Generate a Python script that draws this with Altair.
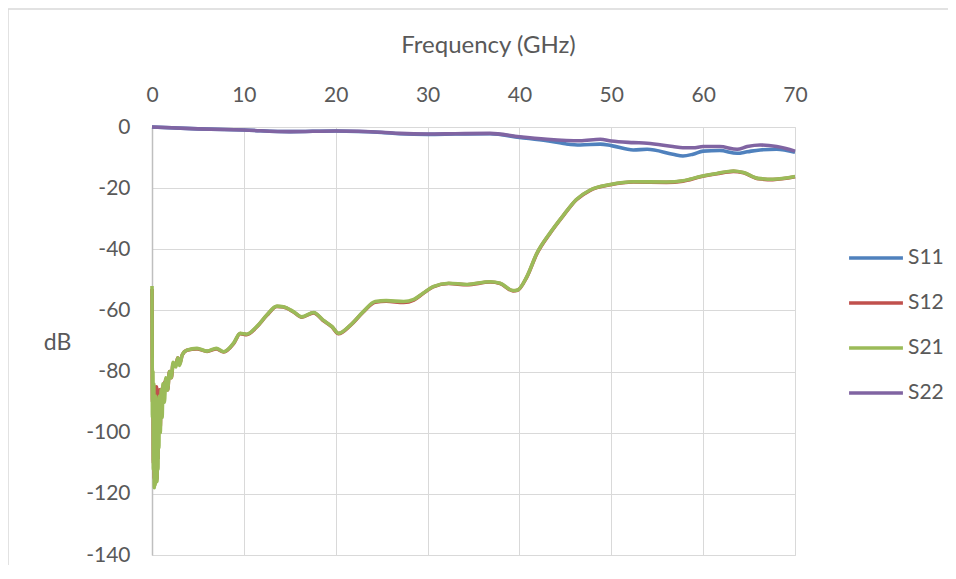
import altair as alt
import pandas as pd

series_names = ["S11", "S12", "S21", "S22"]
series_colors = ["#4F81BD", "#C0504D", "#9BBB59", "#8064A2"]
x_ticks = [0, 10, 20, 30, 40, 50, 60, 70]
y_ticks = [-140, -120, -100, -80, -60, -40, -20, 0]

# S11 (GHz, dB)
s11_f = [0, 5, 10, 15, 20, 25, 27, 30, 33, 36.8, 40, 43, 45, 46.6, 48.8, 50, 52.4, 53.9,
         56.7, 57.8, 58.9, 60, 61.8, 63.7, 64.8, 66.2, 68, 70]
s11_db = [0, -0.6, -1.0, -1.5, -1.3, -1.8, -2.2, -2.4, -2.3, -2.2, -3.4, -4.5, -5.5, -5.9,
          -5.6, -6.1, -7.5, -7.3, -8.9, -9.5, -8.9, -7.9, -7.7, -8.6, -8.1, -7.5, -7.3, -8.3]

# S22
s22_f = [0, 5, 10, 15, 20, 25, 27, 30, 33, 36.8, 40, 43, 46.6, 48.8, 50, 52.4, 53.9, 56.7,
         57.8, 58.9, 60, 61.8, 63.7, 64.8, 66.2, 68, 69, 70]
s22_db = [0, -0.6, -1.0, -1.5, -1.3, -1.7, -2.1, -2.3, -2.2, -2.1, -3.2, -4.0, -4.5, -4.0,
          -4.6, -5.1, -5.3, -6.4, -6.8, -6.8, -6.4, -6.4, -7.3, -6.4, -5.9, -6.4, -7.0, -7.9]

# S21
s21_f = [0.0, 0.05, 0.1, 0.15, 0.2, 0.25, 0.3, 0.35, 0.4, 0.45, 0.5, 0.55, 0.6, 0.65, 0.7,
         0.75, 0.8, 0.9, 1.0, 1.1, 1.2, 1.35, 1.5, 1.7, 1.9, 2.1, 2.3, 2.6, 2.8, 3.0, 3.3,
         3.8, 4.9, 6.0, 7.0, 7.8, 8.9, 9.6, 10.3, 11.4, 12.5, 13.6, 14.3, 15.4, 16.3, 17.6,
         18.6, 19.6, 20.3, 21.6, 23.0, 24.3, 25.5, 27.4, 28.5, 29.5, 30.6, 32.3, 34.3, 36.8,
         37.9, 39.3, 39.8, 40.8, 41.9, 43.3, 44.8, 46.2, 47.7, 49.9, 52.4, 56.0, 57.8, 59.7,
         61.5, 63.3, 64.4, 66.0, 67.6, 70.0]
s21_db = [-52, -95, -80, -112, -84, -118, -90, -117, -88, -110, -92, -116, -90, -112, -95,
          -105, -88, -100, -86, -95, -84, -90, -82, -86, -80, -82, -77, -78.5, -75.5, -78, -74.5,
          -73, -72.4, -73.3, -72.4, -73.5, -70.6, -67.5, -67.8, -65.3, -61.5, -58.6, -58.8,
          -60.4, -62.1, -60.7, -63.1, -65.3, -67.5, -64.8, -60.4, -57.1, -56.8, -57.1, -56.4,
          -54.4, -52.2, -51.1, -51.5, -50.6, -51.1, -53.5, -53.3, -49, -41.3, -34.8, -28.8,
          -23.7, -20.6, -18.8, -17.9, -18.0, -17.6, -16.2, -15.2, -14.4, -14.9, -16.8, -17.1,
          -16.2]

# S12
s12_f = [0.0, 0.05, 0.1, 0.15, 0.2, 0.25, 0.3, 0.35, 0.4, 0.45, 0.5, 0.55, 0.6, 0.65, 0.7,
         0.8, 0.9, 1.0, 1.2, 1.5, 1.7, 1.9, 2.1, 2.3, 2.6, 2.8, 3.0, 3.3,
         3.8, 4.9, 6.0, 7.0, 7.8, 8.9, 9.6, 10.3, 11.4, 12.5, 13.6, 14.3, 15.4, 16.3, 17.6,
         18.6, 19.6, 20.3, 21.6, 23.0, 24.3, 25.5, 27.4, 28.5, 29.5, 30.6, 32.3, 34.3, 36.8,
         37.9, 39.3, 39.8, 40.8, 41.9, 43.3, 44.8, 46.2, 47.7, 49.9, 52.4, 56.0, 57.8, 59.7,
         61.5, 63.3, 64.4, 66.0, 67.6, 70.0]
s12_db = [-53, -90, -84, -110, -86, -115, -85, -112, -86, -108, -85, -115, -86, -108, -88,
          -86, -98, -87, -85, -83, -86, -80, -82, -77.5, -78, -75.5, -77.5, -74.5,
          -73, -72.6, -73.4, -72.6, -73.6, -70.8, -67.6, -67.9, -65.4, -61.6, -58.7, -58.9,
          -60.5, -62.2, -60.8, -63.2, -65.4, -67.6, -64.9, -60.5, -57.3, -57.0, -57.4, -56.6,
          -54.5, -52.3, -51.2, -51.6, -50.7, -51.2, -53.6, -53.4, -49.1, -41.4, -34.9, -28.9,
          -23.8, -20.7, -18.9, -18.0, -18.1, -17.7, -16.3, -15.3, -14.5, -15.0, -16.9, -17.2,
          -16.3]

rows = []
for name, fs, ds in [("S11", s11_f, s11_db), ("S12", s12_f, s12_db),
                     ("S21", s21_f, s21_db), ("S22", s22_f, s22_db)]:
    for f, d in zip(fs, ds):
        rows.append({"series": name, "freq": f, "dB": d})
df = pd.DataFrame(rows)

FONT = "Lato"
GREY = "#595959"

one = pd.DataFrame({"k": [0]})
frame_top = alt.Chart(one).mark_rule(stroke="#d9d9d9", strokeWidth=1.5).encode(
    x=alt.value(-144), x2=alt.value(796), y=alt.value(-118)
)
frame_left = alt.Chart(one).mark_rule(stroke="#d9d9d9", strokeWidth=1.5).encode(
    x=alt.value(-144), y=alt.value(-118), y2=alt.value(440)
)

lines = alt.Chart(df).mark_line(strokeWidth=3.6, interpolate="monotone").encode(
    x=alt.X("freq:Q",
            scale=alt.Scale(domain=[0, 70], nice=False, zero=False),
            axis=alt.Axis(orient="top", values=x_ticks, title="Frequency (GHz)",
                          grid=True, gridColor="#d9d9d9", gridWidth=1,
                          domain=False, ticks=False, tickSize=0, labelFlush=False,
                          labelPadding=22, labelFontSize=21, labelColor=GREY,
                          labelFont=FONT, titleFont=FONT, titleFontSize=24,
                          titleColor=GREY, titleFontWeight="normal",
                          titleX=336, titleY=-82, titleBaseline="middle",
                          titleAlign="center")),
    y=alt.Y("dB:Q",
            scale=alt.Scale(domain=[-140, 0], nice=False, zero=False),
            axis=alt.Axis(values=y_ticks, title="dB", grid=True, gridColor="#d9d9d9",
                          gridWidth=1, domain=True, domainColor="#bfbfbf", domainWidth=1.5,
                          ticks=False, tickSize=0, labelPadding=22, labelFlush=False,
                          labelExpr="'' + datum.value",
                          labelFontSize=21, labelColor=GREY, labelFont=FONT,
                          titleFont=FONT, titleFontSize=23, titleColor=GREY,
                          titleFontWeight="normal", titleAngle=0, titleX=-95, titleY=215,
                          titleAlign="center", titleBaseline="middle")),
    color=alt.Color("series:N",
                    scale=alt.Scale(domain=series_names, range=series_colors),
                    legend=alt.Legend(title=None, orient="none", legendX=695, legendY=102,
                                      symbolType="stroke", symbolSize=2900,
                                      symbolStrokeWidth=3.5, labelFontSize=21,
                                      labelFont=FONT, labelColor=GREY, labelOffset=3,
                                      rowPadding=6, padding=0)),
)

chart = alt.layer(frame_top, frame_left, lines).properties(
    width=643, height=428,
    autosize=alt.AutoSizeParams(type="none"),
    padding={"left": 144, "top": 119, "right": 153, "bottom": 10},
).configure_view(stroke="#d9d9d9", strokeWidth=1).configure(background="white")

chart.save("out.html", embed_options={"renderer": "svg", "actions": False})
